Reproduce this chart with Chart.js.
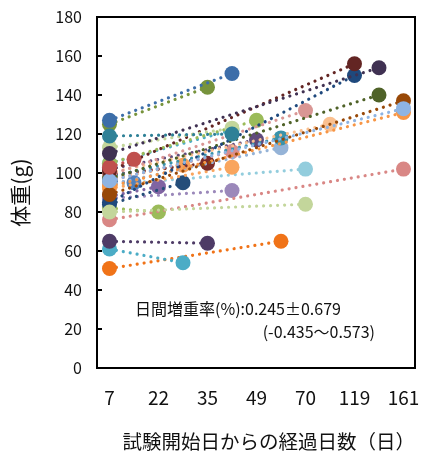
<!DOCTYPE html>
<html>
<head>
<meta charset="utf-8">
<script src="https://cdn.jsdelivr.net/npm/chart.js@4"></script>
<style>
  html, body { margin: 0; padding: 0; background: #fff; }
  #wrap { width: 423px; height: 459px; }
</style>
</head>
<body>
<div id="wrap"><canvas id="weightChart"></canvas></div>
<script>
// x axis labels (days since start), shown evenly spaced
const tickLabels = ['7', '22', '35', '49', '70', '119', '161'];

// each animal: weight at day 7, then position on the day axis and weight of the 2nd weighing
const startWeight = [127, 110, 119, 113, 103, 96, 89, 80, 76, 65, 61, 51, 101, 85,
  125, 97, 93, 99, 100, 98, 94, 105, 102, 105, 96, 99, 92, 97, 84, 87, 88, 96, 82, 94];
const endDay = [2.5, 5.5, 2.5, 2.5, 0.5, 6.0, 6.0, 4.0, 6.0, 2.0, 1.5, 3.5, 5.0, 5.0,
  2.0, 5.5, 6.0, 4.0, 4.5, 3.5, 3.5, 3.0, 3.0, 2.5, 2.5, 2.0, 2.5, 1.5, 1.5, 2.5, 1.0, 0.5, 1.0, 4.0];
const endWeight = [151, 154, 120, 123, 107, 133, 137, 84, 102, 64, 54, 65, 156, 150,
  144, 140, 131, 132, 125, 118, 113, 127, 117, 122, 111, 105, 103, 104, 95, 91, 93, 95, 80, 102];

const seriesColors = ['#3d6ea9', '#403152', '#2f8197', '#c3d69b', '#c0504d',
  '#8eb4e3', '#984807', '#c3d69b', '#d98785', '#4e3b66', '#4bacc6', '#f07318', '#632523', '#1f497d',
  '#77933c', '#4f6228', '#f79646', '#d99694', '#fac090', '#3a93aa', '#95b3d7', '#9bbb59', '#604a7b',
  '#4bacc6', '#da8f8d', '#7b2c2a', '#f9a55e', '#f8a35b', '#254e7a', '#9b88ba', '#8064a2', '#4f81bd',
  '#9bbb59', '#93cddd'];

const statLine1 = '日間増重率(%):0.245±0.679';
const statLine2 = '(-0.435〜0.573)';

Chart.defaults.font.family = "'Noto Sans CJK JP', 'Noto Sans', sans-serif";
Chart.defaults.color = '#111';

const datasets = startWeight.map((w, i) => ({
  data: [{ x: 0, y: w }, { x: endDay[i], y: endWeight[i] }],
  showLine: true,
  borderColor: seriesColors[i],
  backgroundColor: seriesColors[i],
  borderWidth: 3.2,
  borderDash: [0.01, 7],
  borderCapStyle: 'round',
  pointRadius: 7.5,
  pointBorderWidth: 0,
  pointHoverRadius: 7.5
}));

const frame = {
  id: 'frame',
  afterDraw(chart) {
    const { ctx, chartArea: a, scales } = chart;
    ctx.save();
    ctx.strokeStyle = '#000';
    ctx.lineWidth = 2;
    ctx.strokeRect(a.left, a.top, a.right - a.left, a.bottom - a.top);
    // inward ticks on y axis
    scales.y.ticks.forEach(t => {
      const y = Math.round(scales.y.getPixelForValue(t.value));
      ctx.beginPath();
      ctx.moveTo(a.left, y);
      ctx.lineTo(a.left + 5, y);
      ctx.stroke();
    });
    ctx.fillStyle = '#111';
    ctx.font = "16px 'Noto Sans CJK JP'";
    ctx.textBaseline = 'middle';
    ctx.textAlign = 'left';
    ctx.fillText(statLine1, a.left + 38, scales.y.getPixelForValue(30.5));
    ctx.textAlign = 'right';
    ctx.fillText(statLine2, a.left + 278, scales.y.getPixelForValue(18.5));
    ctx.restore();
  }
};

new Chart(document.getElementById('weightChart'), {
  type: 'scatter',
  data: { datasets },
  options: {
    responsive: true,
    maintainAspectRatio: false,
    animation: false,
    layout: { padding: { top: 17, right: 8, left: 0, bottom: 0 } },
    plugins: { legend: { display: false }, tooltip: { enabled: false } },
    scales: {
      x: {
        type: 'linear',
        min: -0.255,
        max: 6.235,
        afterBuildTicks: axis => { axis.ticks = tickLabels.map((_, i) => ({ value: i })); },
        afterFit: scale => {
          scale.height = 91;
          scale.paddingLeft = 0;
          scale.paddingRight = 0;
        },
        grid: { display: false, drawTicks: false },
        border: { display: false },
        ticks: {
          padding: 18,
          font: { size: 19 },
          maxRotation: 0,
          autoSkip: false,
          callback: v => tickLabels[v]
        },
        title: {
          display: true,
          text: '試験開始日からの経過日数（日）',
          align: 'end',
          font: { size: 19.5 },
          padding: { top: 0, bottom: 6 }
        }
      },
      y: {
        min: 0,
        max: 180,
        afterFit: scale => {
          scale.width = 97;
          scale.paddingTop = 0;
          scale.paddingBottom = 0;
        },
        grid: { display: false, drawTicks: false },
        border: { display: false },
        ticks: { stepSize: 20, padding: 15, font: { size: 16 } },
        title: {
          display: true,
          text: '体重(g)',
          font: { size: 21 },
          padding: { top: 7, bottom: 0 }
        }
      }
    }
  },
  plugins: [frame]
});
</script>
</body>
</html>
